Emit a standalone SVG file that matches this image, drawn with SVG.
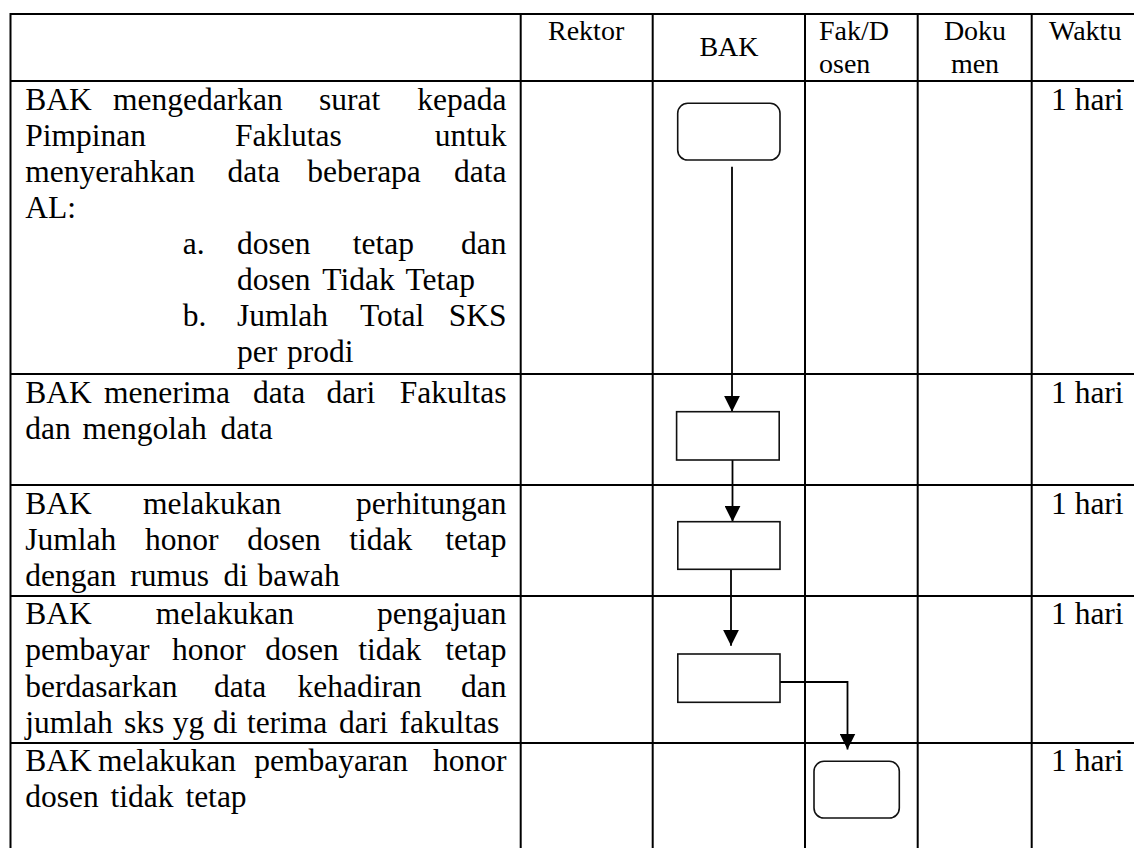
<svg xmlns="http://www.w3.org/2000/svg" width="1134" height="848" viewBox="0 0 1134 848">
<style>
.grid{stroke:#000;stroke-width:2;fill:none}
.t{font-family:"Liberation Serif","Times New Roman",serif;font-size:31.5px;fill:#000}
.h{font-family:"Liberation Serif","Times New Roman",serif;font-size:28px;fill:#000}
.r{text-anchor:end}
.box{fill:#fff;stroke:#111;stroke-width:1.6}
.conn{fill:none;stroke:#000;stroke-width:1.8}
</style>
<defs>
<marker id="arr" markerUnits="userSpaceOnUse" markerWidth="16" markerHeight="16" refX="16" refY="8" orient="auto">
<path d="M0,0 L16,8 L0,16 Z" fill="#000"/>
</marker>
</defs>
<rect width="1134" height="848" fill="#fff"/>
<g id="table" class="grid">
<line x1="10.5" y1="14" x2="1134" y2="14"/>
<line x1="10.5" y1="81" x2="1134" y2="81"/>
<line x1="10.5" y1="374" x2="1134" y2="374"/>
<line x1="10.5" y1="485" x2="1134" y2="485"/>
<line x1="10.5" y1="596" x2="1134" y2="596"/>
<line x1="10.5" y1="743" x2="1134" y2="743"/>
<line x1="10.5" y1="13" x2="10.5" y2="848"/>
<line x1="520.7" y1="13" x2="520.7" y2="848"/>
<line x1="652.7" y1="13" x2="652.7" y2="848"/>
<line x1="805" y1="13" x2="805" y2="848"/>
<line x1="917.7" y1="13" x2="917.7" y2="848"/>
<line x1="1031.7" y1="13" x2="1031.7" y2="848"/>
</g>
<g id="header">
<text class="h" x="548" y="40">Rektor</text>
<text class="h" x="729" y="56" text-anchor="middle">BAK</text>
<text class="h" x="819" y="40">Fak/D</text>
<text class="h" x="819" y="72.7">osen</text>
<text class="h" x="975" y="40" text-anchor="middle">Doku</text>
<text class="h" x="975" y="72.7" text-anchor="middle">men</text>
<text class="h" x="1049" y="40">Waktu</text>
</g>
<g id="row1" class="t">
<text y="109.5"><tspan x="25.3">BAK</tspan><tspan x="113">mengedarkan</tspan><tspan x="319">surat</tspan></text>
<text class="r" x="506.5" y="109.5">kepada</text>
<text y="145.6"><tspan x="25.3">Pimpinan</tspan><tspan x="235">Faklutas</tspan></text>
<text class="r" x="506.5" y="145.6">untuk</text>
<text y="181.7"><tspan x="25.3">menyerahkan</tspan><tspan x="227.6">data</tspan><tspan x="307.2">beberapa</tspan></text>
<text class="r" x="506.5" y="181.7">data</text>
<text y="217.8"><tspan x="25.3">AL:</tspan></text>
<text y="253.9"><tspan x="182.7">a.</tspan><tspan x="237">dosen</tspan><tspan x="352.8">tetap</tspan></text>
<text class="r" x="506.5" y="253.9">dan</text>
<text y="290"><tspan x="237">dosen</tspan><tspan x="322.3">Tidak</tspan><tspan x="405.5">Tetap</tspan></text>
<text y="326.1"><tspan x="182.7">b.</tspan><tspan x="237">Jumlah</tspan><tspan x="360">Total</tspan></text>
<text class="r" x="506.5" y="326.1">SKS</text>
<text y="362.2"><tspan x="237">per</tspan><tspan x="287">prodi</tspan></text>
<text x="1051" y="109.5">1 hari</text>
</g>
<g id="row2" class="t">
<text y="403"><tspan x="25.3">BAK</tspan><tspan x="104">menerima</tspan><tspan x="252.9">data</tspan><tspan x="326.4">dari</tspan></text>
<text class="r" x="506.5" y="403">Fakultas</text>
<text y="439"><tspan x="25.3">dan</tspan><tspan x="82.6">mengolah</tspan><tspan x="220.4">data</tspan></text>
<text x="1051" y="403">1 hari</text>
</g>
<g id="row3" class="t">
<text y="513.5"><tspan x="25.3">BAK</tspan><tspan x="143">melakukan</tspan></text>
<text class="r" x="506.5" y="513.5">perhitungan</text>
<text y="549.5"><tspan x="25.3">Jumlah</tspan><tspan x="145.1">honor</tspan><tspan x="247.3">dosen</tspan><tspan x="349.2">tidak</tspan></text>
<text class="r" x="506.5" y="549.5">tetap</text>
<text y="585.5"><tspan x="25.3">dengan</tspan><tspan x="130.3">rumus</tspan><tspan x="223.5">di</tspan><tspan x="257.5">bawah</tspan></text>
<text x="1051" y="513.5">1 hari</text>
</g>
<g id="row4" class="t">
<text y="623.5"><tspan x="25.3">BAK</tspan><tspan x="155.7">melakukan</tspan></text>
<text class="r" x="506.5" y="623.5">pengajuan</text>
<text y="660"><tspan x="25.3">pembayar</tspan><tspan x="172.1">honor</tspan><tspan x="265.3">dosen</tspan><tspan x="358.2">tidak</tspan></text>
<text class="r" x="506.5" y="660">tetap</text>
<text y="696.5"><tspan x="25.3">berdasarkan</tspan><tspan x="213.9">data</tspan><tspan x="297.5">kehadiran</tspan></text>
<text class="r" x="506.5" y="696.5">dan</text>
<text y="732.8"><tspan x="25.3">jumlah</tspan><tspan x="123.9">sks</tspan><tspan x="172.7">yg</tspan><tspan x="212.9">di</tspan><tspan x="246.9">terima</tspan><tspan x="339.1">dari</tspan><tspan x="399.5">fakultas</tspan></text>
<text x="1051" y="623.5">1 hari</text>
</g>
<g id="row5" class="t">
<text y="770.5"><tspan x="25.3">BAK</tspan><tspan x="97.9">melakukan</tspan><tspan x="254.2">pembayaran</tspan></text>
<text class="r" x="506.5" y="770.5">honor</text>
<text y="806.6"><tspan x="25.3">dosen</tspan><tspan x="110.6">tidak</tspan><tspan x="185.4">tetap</tspan></text>
<text x="1051" y="770.5">1 hari</text>
</g>
<g id="connectors">
<line class="conn" x1="732" y1="166.7" x2="732" y2="411.7" marker-end="url(#arr)"/>
<line class="conn" x1="732.5" y1="460" x2="732.5" y2="521.7" marker-end="url(#arr)"/>
<line class="conn" x1="731" y1="569.3" x2="731" y2="645.7" marker-end="url(#arr)"/>
<polyline class="conn" points="780,682 847.5,682 847.5,749.5" marker-end="url(#arr)"/>
</g>
<g id="start">
<rect class="box" x="677.7" y="103.3" width="102.3" height="56.7" rx="10" ry="10"/>
</g>
<g id="process1">
<rect class="box" x="676.6" y="411.7" width="102.6" height="48.3"/>
</g>
<g id="process2">
<rect class="box" x="677.8" y="521.7" width="102.2" height="47.6"/>
</g>
<g id="process3">
<rect class="box" x="677.8" y="654" width="102.2" height="48.3"/>
</g>
<g id="end">
<rect class="box" x="814" y="761.3" width="85.3" height="56.7" rx="10" ry="10"/>
</g>
</svg>
